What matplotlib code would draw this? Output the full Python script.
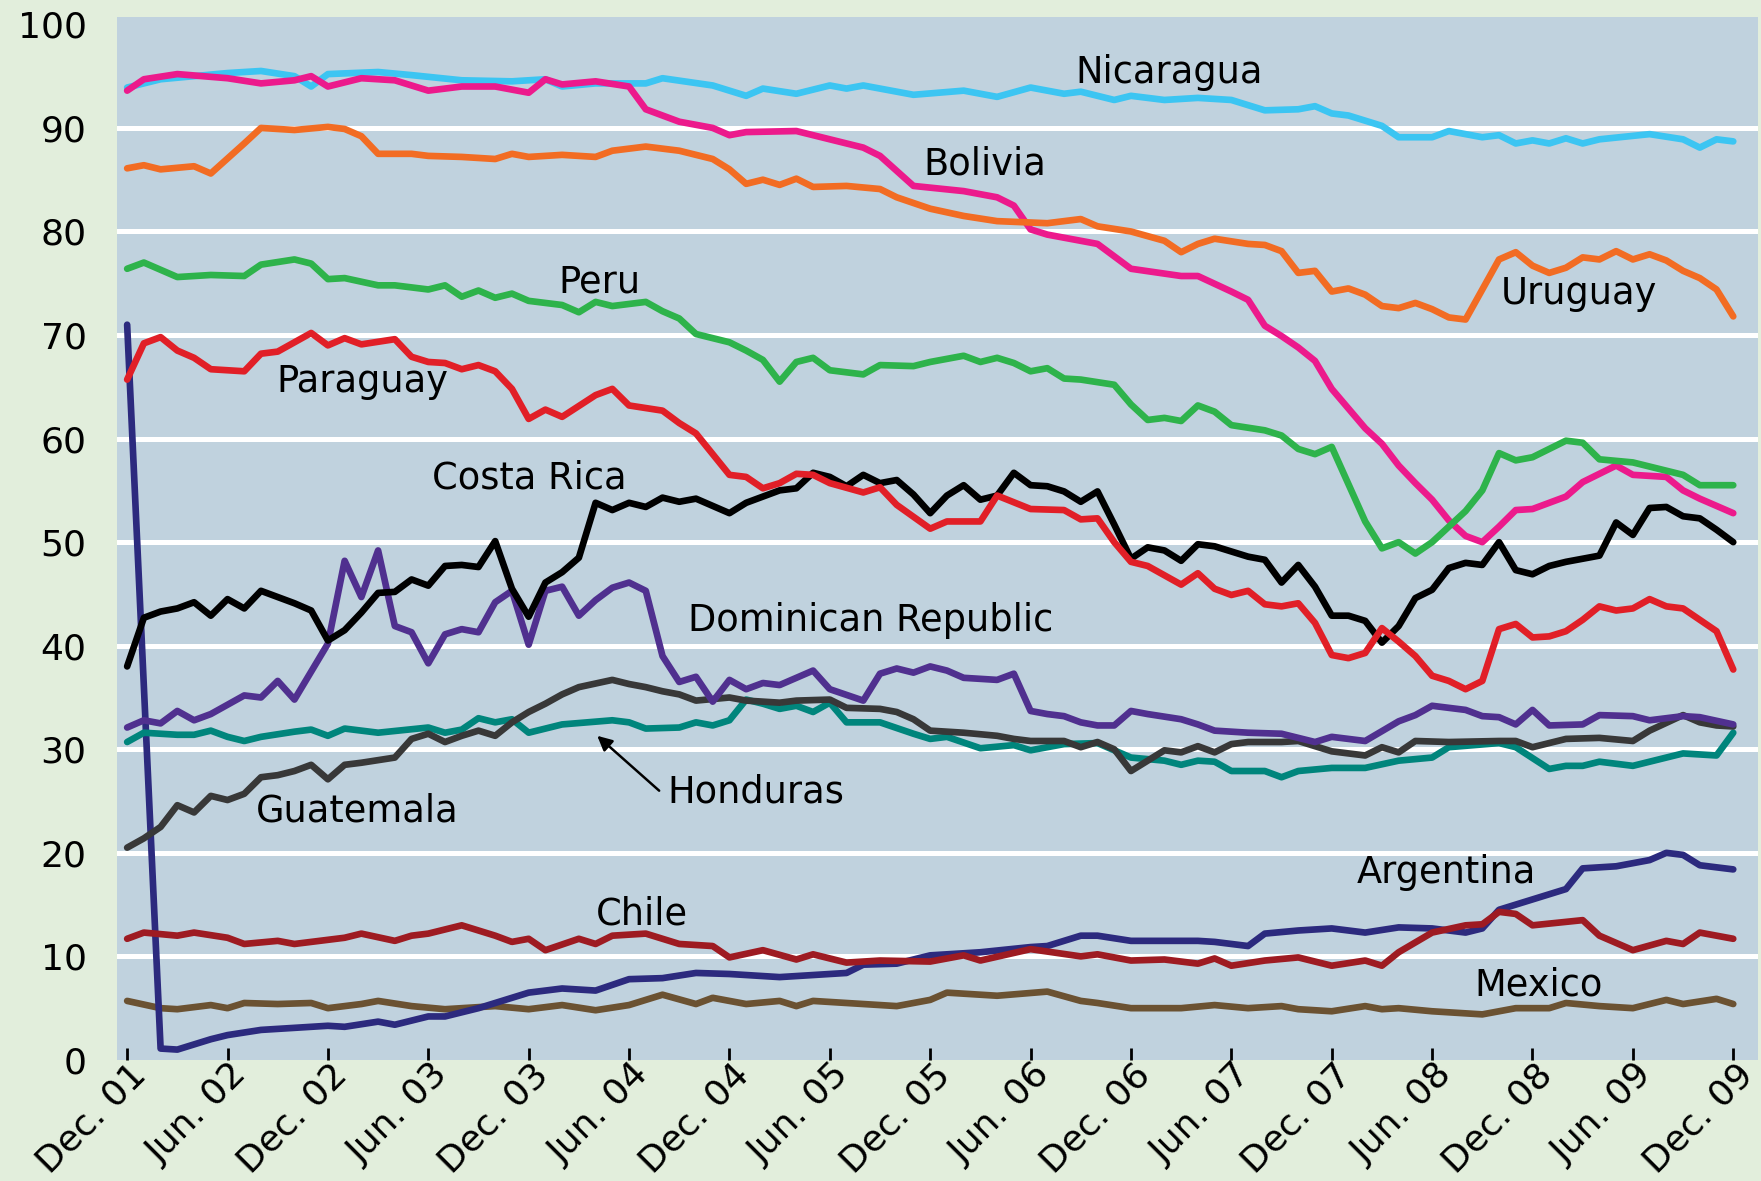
import matplotlib
matplotlib.use("Agg")
import matplotlib.pyplot as plt
import matplotlib.transforms as mtransforms

plt.rcParams['font.family'] = ['DejaVu Sans']

# x = months since Dec. 2001, y = share (%)
tick_months = [0, 6, 12, 18, 24, 30, 36, 42, 48, 54, 60, 66, 72, 78, 84, 90, 96]
tick_labels = ["Dec. 01", "Jun. 02", "Dec. 02", "Jun. 03", "Dec. 03", "Jun. 04",
               "Dec. 04", "Jun. 05", "Dec. 05", "Jun. 06", "Dec. 06", "Jun. 07",
               "Dec. 07", "Jun. 08", "Dec. 08", "Jun. 09", "Dec. 09"]

nicaragua_m = [0, 2, 4, 6, 8, 10, 11, 12, 15, 17, 20, 23, 25, 26, 28, 31, 32, 35, 37, 38, 40, 42, 43,
               44, 47, 50, 52, 54, 56, 57, 59, 60, 62, 64, 66, 68, 70, 71, 72, 73, 75, 76, 78, 79, 81,
               82, 83, 84, 85, 86, 87, 88, 91, 93, 94, 95, 96]
nicaragua_v = [93.9, 94.7, 95.0, 95.3, 95.5, 95.0, 94.0, 95.2, 95.4, 95.1, 94.6, 94.5, 94.7, 94.0,
               94.3, 94.3, 94.8, 94.1, 93.1, 93.8, 93.3, 94.1, 93.8, 94.1, 93.2, 93.6, 93.0, 93.9,
               93.3, 93.5, 92.7, 93.1, 92.7, 92.9, 92.7, 91.7, 91.8, 92.1, 91.4, 91.2, 90.2, 89.1,
               89.1, 89.7, 89.1, 89.3, 88.5, 88.8, 88.5, 89.0, 88.5, 88.9, 89.4, 88.9, 88.1, 88.9, 88.7]

bolivia_m = [0, 1, 3, 6, 8, 10, 11, 12, 14, 16, 18, 20, 22, 24, 25, 26, 28, 30, 31, 33, 35, 36, 37,
             40, 42, 44, 45, 47, 50, 52, 53, 54, 55, 57, 58, 60, 63, 64, 66, 67, 68, 69, 70, 71, 72,
             74, 75, 76, 77, 78, 79, 80, 81, 82, 83, 84, 86, 87, 89, 90, 92, 93, 94, 96]
bolivia_v = [93.6, 94.7, 95.2, 94.8, 94.3, 94.6, 95.0, 94.0, 94.8, 94.6, 93.6, 94.0, 94.0, 93.4,
             94.7, 94.2, 94.5, 94.0, 91.8, 90.6, 90.0, 89.3, 89.6, 89.7, 88.9, 88.1, 87.3, 84.4,
             83.9, 83.3, 82.5, 80.2, 79.7, 79.1, 78.8, 76.4, 75.7, 75.7, 74.2, 73.4, 70.9, 69.9,
             68.8, 67.5, 64.8, 61.0, 59.5, 57.4, 55.7, 54.1, 52.1, 50.6, 50.0, 51.5, 53.1, 53.2,
             54.4, 55.8, 57.4, 56.5, 56.3, 55.0, 54.2, 52.8]

uruguay_m = [0, 1, 2, 4, 5, 7, 8, 10, 12, 13, 14, 15, 17, 18, 20, 22, 23, 24, 26, 28, 29, 31, 33,
             35, 36, 37, 38, 39, 40, 41, 43, 45, 46, 48, 50, 52, 55, 57, 58, 60, 62, 63, 64, 65, 67,
             68, 69, 70, 71, 72, 73, 74, 75, 76, 77, 78, 79, 80, 81, 82, 83, 84, 85, 86, 87, 88, 89,
             90, 91, 92, 93, 94, 95, 96]
uruguay_v = [86.1, 86.4, 86.0, 86.3, 85.6, 88.5, 90.0, 89.8, 90.1, 89.9, 89.2, 87.5, 87.5, 87.3,
             87.2, 87.0, 87.5, 87.2, 87.4, 87.2, 87.8, 88.2, 87.8, 87.0, 86.0, 84.6, 85.0, 84.5,
             85.1, 84.3, 84.4, 84.1, 83.3, 82.2, 81.5, 81.0, 80.8, 81.2, 80.5, 80.0, 79.1, 78.0,
             78.8, 79.3, 78.8, 78.7, 78.1, 76.0, 76.2, 74.2, 74.5, 73.9, 72.8, 72.6, 73.1, 72.5,
             71.7, 71.5, 74.4, 77.3, 78.0, 76.7, 76.0, 76.5, 77.5, 77.3, 78.1, 77.3, 77.8, 77.2,
             76.2, 75.5, 74.4, 71.8]

peru_m = [0, 1, 3, 5, 7, 8, 10, 11, 12, 13, 15, 16, 18, 19, 20, 21, 22, 23, 24, 26, 27, 28, 29, 31,
          32, 33, 34, 36, 37, 38, 39, 40, 41, 42, 44, 45, 47, 48, 50, 51, 52, 53, 54, 55, 56, 57, 59,
          60, 61, 62, 63, 64, 65, 66, 68, 69, 70, 71, 72, 74, 75, 76, 77, 78, 79, 80, 81, 82, 83, 84,
          86, 87, 88, 90, 91, 93, 94, 96]
peru_v = [76.4, 77.0, 75.6, 75.8, 75.7, 76.8, 77.3, 76.9, 75.4, 75.5, 74.8, 74.8, 74.4, 74.8, 73.7,
          74.3, 73.6, 74.0, 73.3, 72.9, 72.2, 73.2, 72.8, 73.2, 72.3, 71.6, 70.1, 69.3, 68.5, 67.6,
          65.5, 67.4, 67.8, 66.6, 66.2, 67.1, 67.0, 67.4, 68.0, 67.4, 67.8, 67.3, 66.5, 66.8, 65.8,
          65.7, 65.2, 63.3, 61.8, 62.0, 61.7, 63.2, 62.6, 61.3, 60.8, 60.3, 59.0, 58.5, 59.2, 52.0,
          49.4, 50.0, 48.9, 50.0, 51.5, 53.0, 55.0, 58.6, 57.9, 58.2, 59.8, 59.6, 58.0, 57.7, 57.3,
          56.5, 55.5, 55.5]

paraguay_m = [0, 1, 2, 3, 4, 5, 7, 8, 9, 11, 12, 13, 14, 16, 17, 18, 19, 20, 21, 22, 23, 24, 25, 26,
              28, 29, 30, 32, 33, 34, 35, 36, 37, 38, 39, 40, 41, 42, 44, 45, 46, 48, 49, 51, 52, 54,
              56, 57, 58, 59, 60, 61, 62, 63, 64, 65, 66, 67, 68, 69, 70, 71, 72, 73, 74, 75, 76, 77,
              78, 79, 80, 81, 82, 83, 84, 85, 86, 87, 88, 89, 90, 91, 92, 93, 94, 95, 96]
paraguay_v = [65.7, 69.2, 69.8, 68.5, 67.8, 66.7, 66.5, 68.2, 68.4, 70.2, 69.0, 69.7, 69.1, 69.6,
              67.9, 67.4, 67.3, 66.7, 67.1, 66.5, 64.8, 61.9, 62.8, 62.1, 64.2, 64.8, 63.2, 62.7,
              61.5, 60.5, 58.5, 56.5, 56.3, 55.2, 55.7, 56.6, 56.5, 55.7, 54.8, 55.3, 53.6, 51.3,
              52.0, 52.0, 54.5, 53.2, 53.1, 52.2, 52.3, 50.0, 48.1, 47.7, 46.8, 45.9, 47.0, 45.5,
              44.9, 45.3, 44.0, 43.8, 44.1, 42.2, 39.1, 38.8, 39.3, 41.7, 40.4, 39.0, 37.1, 36.6,
              35.8, 36.6, 41.6, 42.1, 40.8, 40.9, 41.4, 42.5, 43.8, 43.4, 43.6, 44.5, 43.8, 43.6,
              42.5, 41.4, 37.7]

costa_rica_m = [0, 1, 2, 3, 4, 5, 6, 7, 8, 10, 11, 12, 13, 14, 15, 16, 17, 18, 19, 20, 21, 22, 23,
                24, 25, 26, 27, 28, 29, 30, 31, 32, 33, 34, 35, 36, 37, 39, 40, 41, 42, 43, 44, 45,
                46, 47, 48, 49, 50, 51, 52, 53, 54, 55, 56, 57, 58, 59, 60, 61, 62, 63, 64, 65, 67,
                68, 69, 70, 71, 72, 73, 74, 75, 76, 77, 78, 79, 80, 81, 82, 83, 84, 85, 86, 87, 88,
                89, 90, 91, 92, 93, 94, 95, 96]
costa_rica_v = [38.0, 42.7, 43.3, 43.6, 44.2, 42.9, 44.5, 43.6, 45.3, 44.1, 43.4, 40.5, 41.5, 43.2,
                45.1, 45.2, 46.4, 45.8, 47.7, 47.8, 47.6, 50.1, 45.5, 42.8, 46.1, 47.1, 48.5, 53.8,
                53.1, 53.8, 53.4, 54.3, 53.9, 54.2, 53.5, 52.8, 53.8, 55.0, 55.2, 56.7, 56.3, 55.4,
                56.5, 55.7, 56.0, 54.6, 52.8, 54.5, 55.5, 54.1, 54.5, 56.7, 55.5, 55.4, 54.9, 53.9,
                54.9, 51.7, 48.4, 49.5, 49.2, 48.2, 49.8, 49.6, 48.6, 48.3, 46.1, 47.8, 45.7, 42.9,
                42.9, 42.4, 40.3, 41.9, 44.6, 45.4, 47.5, 48.0, 47.8, 50.0, 47.3, 46.9, 47.7, 48.1,
                48.4, 48.7, 51.9, 50.7, 53.3, 53.4, 52.5, 52.3, 51.2, 50.0]

dominican_m = [0, 1, 2, 3, 4, 5, 6, 7, 8, 9, 10, 11, 12, 13, 14, 15, 16, 17, 18, 19, 20, 21, 22, 23,
               24, 25, 26, 27, 28, 29, 30, 31, 32, 33, 34, 35, 36, 37, 38, 39, 41, 42, 44, 45, 46, 47,
               48, 49, 50, 52, 53, 54, 55, 56, 57, 58, 59, 60, 61, 63, 64, 65, 67, 69, 71, 72, 74, 76,
               77, 78, 80, 81, 82, 83, 84, 85, 87, 88, 90, 91, 93, 94, 96]
dominican_v = [32.1, 32.8, 32.5, 33.7, 32.8, 33.4, 34.3, 35.2, 35.0, 36.6, 34.8, 37.5, 40.2, 48.2,
               44.7, 49.2, 41.9, 41.3, 38.3, 41.1, 41.6, 41.3, 44.2, 45.3, 40.1, 45.3, 45.7, 42.9,
               44.4, 45.6, 46.1, 45.3, 39.0, 36.5, 37.0, 34.6, 36.7, 35.8, 36.4, 36.2, 37.6, 35.8,
               34.7, 37.3, 37.8, 37.4, 38.0, 37.6, 36.9, 36.7, 37.3, 33.7, 33.4, 33.2, 32.6, 32.3,
               32.3, 33.7, 33.4, 32.9, 32.4, 31.8, 31.6, 31.5, 30.7, 31.2, 30.8, 32.7, 33.3, 34.2,
               33.8, 33.2, 33.1, 32.4, 33.8, 32.3, 32.4, 33.3, 33.2, 32.8, 33.2, 33.1, 32.4]

guatemala_m = [0, 1, 2, 3, 4, 5, 6, 7, 8, 9, 10, 11, 12, 13, 14, 16, 17, 18, 19, 20, 21, 22, 23, 24,
               25, 26, 27, 29, 30, 31, 32, 33, 34, 36, 37, 39, 40, 42, 43, 45, 46, 47, 48, 50, 52, 53,
               54, 56, 57, 58, 59, 60, 61, 62, 63, 64, 65, 66, 67, 69, 70, 72, 74, 75, 76, 77, 79, 82,
               83, 84, 86, 88, 90, 91, 93, 94, 95, 96]
guatemala_v = [20.5, 21.4, 22.5, 24.6, 23.9, 25.5, 25.1, 25.7, 27.3, 27.5, 27.9, 28.5, 27.1, 28.5,
               28.7, 29.2, 31.0, 31.5, 30.7, 31.3, 31.8, 31.3, 32.6, 33.6, 34.4, 35.3, 36.0, 36.7,
               36.3, 36.0, 35.6, 35.3, 34.7, 35.0, 34.7, 34.5, 34.7, 34.8, 34.0, 33.9, 33.6, 32.9,
               31.8, 31.6, 31.3, 31.0, 30.8, 30.8, 30.2, 30.7, 30.0, 27.9, 28.9, 29.9, 29.7, 30.3,
               29.7, 30.5, 30.7, 30.7, 30.8, 29.8, 29.4, 30.2, 29.7, 30.8, 30.7, 30.8, 30.8, 30.2,
               31.0, 31.1, 30.8, 31.8, 33.3, 32.6, 32.3, 32.2]

honduras_m = [0, 1, 3, 4, 5, 6, 7, 8, 10, 11, 12, 13, 15, 18, 19, 20, 21, 22, 23, 24, 26, 29, 30, 31,
              33, 34, 35, 36, 37, 38, 39, 40, 41, 42, 43, 45, 47, 48, 49, 51, 53, 54, 56, 58, 60, 62,
              63, 64, 65, 66, 68, 69, 70, 72, 74, 76, 78, 79, 82, 83, 85, 86, 87, 88, 90, 91, 93, 95,
              96]
honduras_v = [30.7, 31.6, 31.4, 31.4, 31.8, 31.2, 30.8, 31.2, 31.7, 31.9, 31.3, 32.0, 31.6, 32.1,
              31.6, 31.9, 33.0, 32.6, 32.9, 31.6, 32.4, 32.8, 32.6, 32.0, 32.1, 32.6, 32.3, 32.8,
              34.8, 34.4, 33.9, 34.2, 33.6, 34.5, 32.6, 32.6, 31.5, 31.0, 31.2, 30.1, 30.4, 29.9,
              30.5, 30.6, 29.2, 28.9, 28.5, 28.9, 28.8, 27.9, 27.9, 27.3, 27.9, 28.2, 28.2, 28.9,
              29.2, 30.2, 30.6, 30.2, 28.1, 28.4, 28.4, 28.8, 28.4, 28.8, 29.6, 29.4, 31.6]

chile_m = [0, 1, 3, 4, 6, 7, 9, 10, 11, 13, 14, 16, 17, 18, 20, 22, 23, 24, 25, 27, 28, 29, 31, 33,
           35, 36, 38, 40, 41, 43, 45, 48, 50, 51, 54, 57, 58, 60, 62, 64, 65, 66, 68, 70, 72, 74, 75,
           76, 78, 80, 81, 82, 83, 84, 87, 88, 90, 92, 93, 94, 96]
chile_v = [11.7, 12.3, 12.0, 12.3, 11.8, 11.2, 11.5, 11.2, 11.4, 11.8, 12.2, 11.5, 12.0, 12.2, 13.0,
           12.0, 11.4, 11.7, 10.6, 11.7, 11.2, 12.0, 12.2, 11.2, 11.0, 9.9, 10.6, 9.7, 10.2, 9.4,
           9.6, 9.5, 10.1, 9.6, 10.7, 10.0, 10.2, 9.6, 9.7, 9.3, 9.8, 9.1, 9.6, 9.9, 9.1, 9.6, 9.1,
           10.4, 12.3, 13.0, 13.1, 14.3, 14.1, 13.0, 13.5, 12.0, 10.6, 11.5, 11.2, 12.3, 11.7]

argentina_m = [0, 2, 3, 5, 6, 8, 10, 12, 13, 15, 16, 18, 19, 21, 22, 24, 26, 28, 30, 32, 34, 36, 39,
               41, 43, 44, 46, 48, 51, 54, 55, 57, 58, 60, 64, 65, 67, 68, 70, 72, 74, 76, 78, 80, 81,
               82, 84, 85, 86, 87, 89, 91, 92, 93, 94, 96]
argentina_v = [71.0, 1.1, 1.0, 2.0, 2.4, 2.9, 3.1, 3.3, 3.2, 3.7, 3.4, 4.2, 4.2, 5.0, 5.5, 6.5, 6.9,
               6.7, 7.8, 7.9, 8.4, 8.3, 8.0, 8.2, 8.4, 9.2, 9.3, 10.1, 10.4, 10.9, 11.0, 12.0, 12.0,
               11.5, 11.5, 11.4, 11.0, 12.2, 12.5, 12.7, 12.3, 12.8, 12.7, 12.3, 12.7, 14.5, 15.5,
               16.0, 16.5, 18.5, 18.7, 19.3, 20.0, 19.8, 18.8, 18.4]

mexico_m = [0, 2, 3, 5, 6, 7, 9, 11, 12, 14, 15, 17, 19, 22, 24, 26, 28, 30, 32, 34, 35, 37, 39, 40,
            41, 44, 46, 48, 49, 52, 55, 57, 58, 60, 63, 65, 67, 69, 70, 72, 74, 75, 76, 78, 81, 83,
            85, 86, 88, 90, 92, 93, 95, 96]
mexico_v = [5.7, 5.0, 4.9, 5.3, 5.0, 5.5, 5.4, 5.5, 5.0, 5.4, 5.7, 5.2, 4.9, 5.2, 4.9, 5.3, 4.8, 5.3,
            6.3, 5.4, 6.0, 5.4, 5.7, 5.2, 5.7, 5.4, 5.2, 5.8, 6.5, 6.2, 6.6, 5.7, 5.5, 5.0, 5.0, 5.3,
            5.0, 5.2, 4.9, 4.7, 5.2, 4.9, 5.0, 4.7, 4.4, 5.0, 5.0, 5.5, 5.2, 5.0, 5.8, 5.4, 5.9, 5.4]

# (months, values, color, label, label x, label y)
series = [
    (mexico_m, mexico_v, "#6b5232", "Mexico", 80.5, 6.2),
    (argentina_m, argentina_v, "#2c2a7e", "Argentina", 73.5, 17.1),
    (chile_m, chile_v, "#9e1b22", "Chile", 28.0, 13.1),
    (honduras_m, honduras_v, "#00857c", "Honduras", 32.3, 24.9),
    (guatemala_m, guatemala_v, "#383838", "Guatemala", 7.7, 23.0),
    (dominican_m, dominican_v, "#50308f", "Dominican Republic", 33.5, 41.4),
    (nicaragua_m, nicaragua_v, "#3cc5f2", "Nicaragua", 56.7, 94.3),
    (bolivia_m, bolivia_v, "#ec1a8c", "Bolivia", 47.6, 85.5),
    (costa_rica_m, costa_rica_v, "#000000", "Costa Rica", 18.2, 55.2),
    (paraguay_m, paraguay_v, "#e11f27", "Paraguay", 8.9, 64.5),
    (peru_m, peru_v, "#2eb34b", "Peru", 25.8, 74.1),
    (uruguay_m, uruguay_v, "#f26c23", "Uruguay", 82.1, 73.0),
]

fig = plt.figure(figsize=(17.61, 11.81), dpi=100, facecolor="#e2eedc")
ax = fig.add_axes([0.0665, 0.1025, 0.932, 0.883])
ax.set_facecolor("#c0d2de")

for y in range(10, 100, 10):
    ax.axhline(y, color="white", lw=3.6, zorder=1)

for months, values, color, name, lx, ly in series:
    ax.plot(months, values, color=color, lw=4.8, solid_joinstyle="round",
            solid_capstyle="round", zorder=3)
    ax.text(lx, ly, name, fontsize=26.5, color="black", ha="left", va="baseline", zorder=5)

ax.annotate("", xy=(28.1, 31.3), xytext=(31.8, 26.0),
            arrowprops=dict(arrowstyle="-|>", color="black", lw=1.8, mutation_scale=22,
                            shrinkA=0, shrinkB=0), zorder=5)

ax.set_xlim(-0.6, 97.5)
ax.set_ylim(0, 100.7)
for side in ["top", "right", "bottom", "left"]:
    ax.spines[side].set_visible(False)

ax.set_yticks(range(0, 101, 10))
ax.tick_params(axis="y", length=0, pad=22, labelsize=26)

ax.set_xticks(tick_months)
ax.set_xticklabels(tick_labels, rotation=45, ha="right", va="top", rotation_mode="anchor")
ax.tick_params(axis="x", direction="in", length=9, width=2, color="black", pad=-2, labelsize=26)
offset = mtransforms.ScaledTranslation(0.02, 0, fig.dpi_scale_trans)
for lab in ax.get_xticklabels():
    lab.set_transform(lab.get_transform() + offset)

fig.savefig("out.png", dpi=100, facecolor=fig.get_facecolor())
